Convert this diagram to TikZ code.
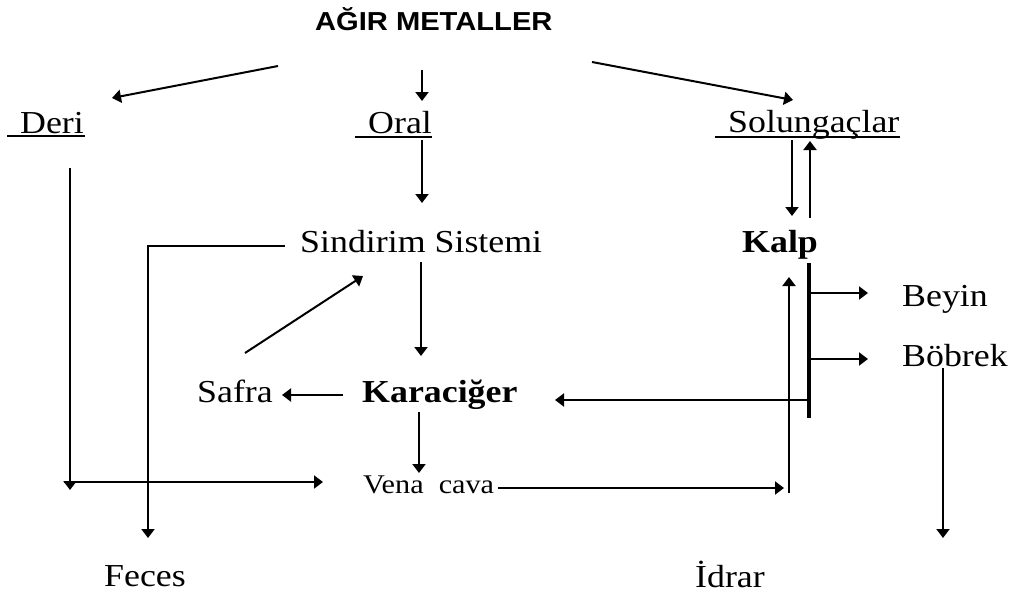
\documentclass[tikz,border=0pt]{standalone}
\usepackage{fontspec}
\setmainfont{Liberation Serif}[FakeStretch=1.12]
\newfontfamily\titlefont{Liberation Sans}[FakeStretch=1.12]
\usetikzlibrary{arrows.meta}
\begin{document}
\begin{tikzpicture}[x=1pt,y=-1pt,
  lbl/.style={anchor=base west,inner sep=0pt,font=\fontsize{32}{38}\selectfont},
  blbl/.style={lbl,font=\fontsize{32}{38}\selectfont\bfseries},
  slbl/.style={lbl,font=\fontsize{27}{32}\selectfont},
  tlbl/.style={anchor=base west,inner sep=0pt,font=\titlefont\bfseries\fontsize{26}{30}\selectfont},
  arr/.style={line width=2pt,-{Triangle[length=9pt,width=13pt]}},
  ul/.style={line width=1.6pt},
  bar/.style={line width=4.5pt}]
\useasboundingbox[fill=white] (0,0) rectangle (1020,595);
% texts
\node[tlbl] (title) at (315,30) {AĞIR METALLER};
\node[lbl] (deri) at (20,133) {Deri};
\node[lbl] (oral) at (368,133) {Oral};
\node[lbl] (sol) at (728,132) {Solungaçlar};
\node[lbl] (sind) at (300,252) {Sindirim Sistemi};
\node[blbl] (kalp) at (742,252) {Kalp};
\node[lbl] (beyin) at (902,306) {Beyin};
\node[lbl] (bobrek) at (902,366) {Böbrek};
\node[lbl] (safra) at (197,402) {Safra};
\node[blbl] (karac) at (362,402) {Karaciğer};
\node[slbl] (vena) at (363,493) {Vena\ \ cava};
\node[lbl] (feces) at (104,586) {Feces};
\node[lbl] (idrar) at (695,587) {İdrar};
% underlines
\draw[ul] (7,136) -- (85,136);
\draw[ul] (355,137) -- (432,137);
\draw[ul] (715,137) -- (900,137);
% coordinates
\coordinate (tL) at (278,66);  \coordinate (deriIn) at (112,98);
\coordinate (tM) at (422,70);  \coordinate (oralIn) at (422,101);
\coordinate (tR) at (592,62);  \coordinate (solIn) at (793,100);
\coordinate (oralOut) at (422,140); \coordinate (sindIn) at (422,203);
\coordinate (deriOut) at (70,168); \coordinate (deriEnd) at (70,490);
\coordinate (deriH) at (64,482); \coordinate (venaIn) at (323,482);
\coordinate (sindL) at (285,246); \coordinate (fecesIn) at (148,538);
\coordinate (sindOut) at (421,262); \coordinate (karIn) at (421,356);
\coordinate (safraOut) at (245,353); \coordinate (sindIn2) at (363,276);
\coordinate (karL) at (343,395); \coordinate (safraIn) at (282,395);
\coordinate (barK) at (807,400); \coordinate (karR) at (555,400);
\coordinate (karOut) at (419,412); \coordinate (venaTop) at (419,473);
\coordinate (venaOut) at (498,488); \coordinate (venaEnd) at (784,488);
\coordinate (upB) at (789,493); \coordinate (kalpIn) at (789,277);
\coordinate (solOut) at (792,140); \coordinate (kalpTop) at (792,216);
\coordinate (kalpOut) at (810,218); \coordinate (solIn2) at (810,141);
\coordinate (barT) at (809,263); \coordinate (barB) at (809,418);
\coordinate (bB) at (810,293); \coordinate (beyinIn) at (868,293);
\coordinate (bK) at (810,359); \coordinate (bobIn) at (868,359);
\coordinate (bobOut) at (943,368); \coordinate (idrarIn) at (943,538);
% connectors
\draw[arr] (tL) -- (deriIn);
\draw[arr] (tM) -- (oralIn);
\draw[arr] (tR) -- (solIn);
\draw[arr] (oralOut) -- (sindIn);
\draw[arr] (deriOut) -- (deriEnd);
\draw[arr] (deriH) -- (venaIn);
\draw[arr] (sindL) -| (fecesIn);
\draw[arr] (sindOut) -- (karIn);
\draw[arr] (safraOut) -- (sindIn2);
\draw[arr] (karL) -- (safraIn);
\draw[arr] (barK) -- (karR);
\draw[arr] (karOut) -- (venaTop);
\draw[arr] (venaOut) -- (venaEnd);
\draw[arr] (upB) -- (kalpIn);
\draw[arr] (solOut) -- (kalpTop);
\draw[arr] (kalpOut) -- (solIn2);
\draw[bar] (barT) -- (barB);
\draw[arr] (bB) -- (beyinIn);
\draw[arr] (bK) -- (bobIn);
\draw[arr] (bobOut) -- (idrarIn);
\end{tikzpicture}
\end{document}
